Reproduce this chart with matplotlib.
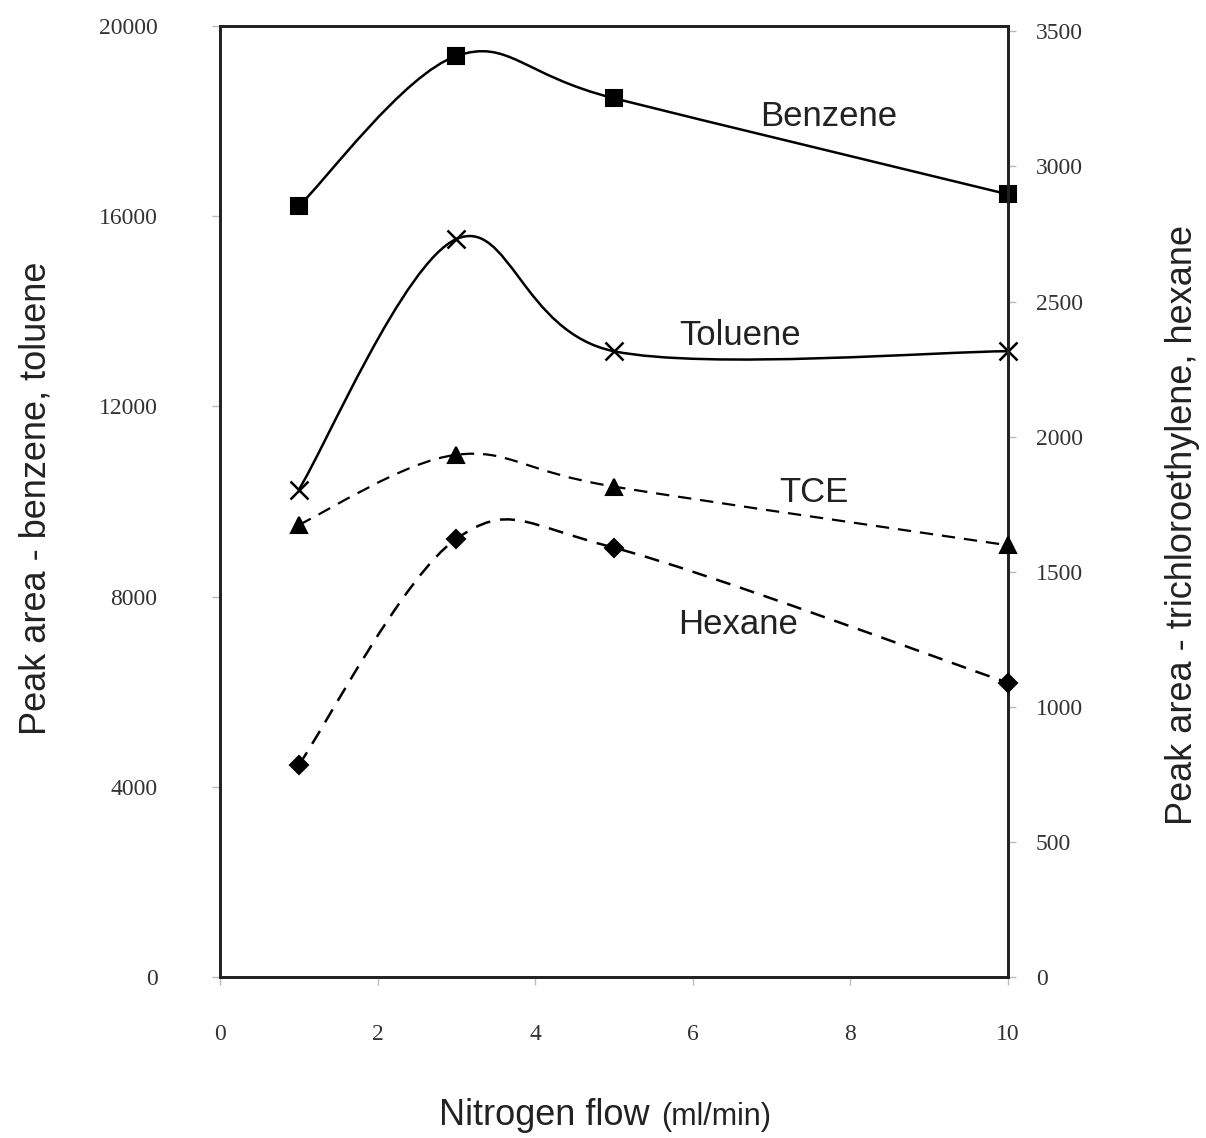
import matplotlib
matplotlib.use('Agg')
import matplotlib.pyplot as plt
from matplotlib.path import Path
from matplotlib.patches import PathPatch

# Nitrogen flow (ml/min)
flow = [1, 3, 5, 10]

# left axis series
benzene = [16210, 19370, 18480, 16460]
toluene = [10250, 15520, 13160, 13160]

# right axis series
tce = [1674, 1933, 1815, 1598]
hexane = [785, 1622, 1589, 1089]

labels = ['Benzene', 'Toluene', 'TCE', 'Hexane']
label_pos = [(7.73, 17900), (6.6, 13300), (7.54, 9980), (6.57, 7220)]

SERIF = 'Liberation Serif'
SANS = 'Liberation Sans'


def smooth_path(xs, ys):
    """Excel-like smoothed line as a cubic Bezier path through the points."""
    pts = list(zip(xs, ys))
    ext = [pts[0]] + pts + [pts[-1]]
    verts = [pts[0]]
    codes = [Path.MOVETO]
    for i in range(1, len(ext) - 2):
        p0, p1, p2, p3 = ext[i - 1], ext[i], ext[i + 1], ext[i + 2]
        c1 = (p1[0] + (p2[0] - p0[0]) / 6, p1[1] + (p2[1] - p0[1]) / 6)
        c2 = (p2[0] - (p3[0] - p1[0]) / 6, p2[1] - (p3[1] - p1[1]) / 6)
        verts += [c1, c2, p2]
        codes += [Path.CURVE4] * 3
    return Path(verts, codes)


def draw_series(ax, xs, ys, marker, ms, ls, lw, mew=1.5):
    patch = PathPatch(smooth_path(xs, ys), facecolor='none', edgecolor='black',
                      linewidth=lw, linestyle=ls, zorder=2)
    ax.add_patch(patch)
    ax.plot(xs, ys, linestyle='none', marker=marker, markersize=ms,
            color='black', markeredgewidth=mew, zorder=3, clip_on=False)


fig = plt.figure(figsize=(12.06, 11.38), dpi=100)
ax = fig.add_axes([220 / 1206, 1 - 977 / 1138, 788 / 1206, 951 / 1138])
ax2 = ax.twinx()

ax.set_xlim(0, 10)
ax.set_ylim(0, 20000)
ax2.set_ylim(0, 3520)

draw_series(ax, flow, benzene, 's', 12, '-', 1.8)
draw_series(ax, flow, toluene, 'x', 13, '-', 1.8, mew=1.8)
draw_series(ax2, flow, tce, '^', 12, (0, (6, 4)), 1.6)
draw_series(ax2, flow, hexane, 'D', 9, (0, (6, 4)), 1.8)

for txt, (x, y) in zip(labels, label_pos):
    ax.text(x, y, txt, fontsize=25, family=SANS, color='#222222',
            ha='center', va='baseline')

ax.set_xticks([0, 2, 4, 6, 8, 10])
ax.set_yticks([0, 4000, 8000, 12000, 16000, 20000])
ax2.set_yticks([0, 500, 1000, 1500, 2000, 2500, 3000, 3500])

for a in (ax, ax2):
    for sp in a.spines.values():
        sp.set_linewidth(2)
        sp.set_color('#222222')
    for lab in a.get_xticklabels() + a.get_yticklabels():
        lab.set_fontfamily(SERIF)
        lab.set_fontsize(17)
        lab.set_color('#333333')

ax.tick_params(axis='x', direction='out', length=6, width=1, color='#bbbbbb',
               pad=28)
ax.tick_params(axis='y', direction='out', length=6, width=1, color='#bbbbbb',
               pad=39)
ax2.tick_params(axis='y', direction='out', length=6, width=1, color='#bbbbbb',
                pad=14)

fig.text(650 / 1206, 1 - 1125 / 1138, 'Nitrogen flow', fontsize=26,
         family=SANS, color='#222222', ha='right', va='baseline')
fig.text(661 / 1206, 1 - 1125 / 1138, '(ml/min)', fontsize=22,
         family=SANS, color='#222222', ha='left', va='baseline')
fig.text(36 / 1206, 1 - 498 / 1138, 'Peak area - benzene, toluene',
         fontsize=26, family=SANS, color='#222222', rotation=90,
         ha='center', va='center')
fig.text(1183 / 1206, 1 - 525 / 1138, 'Peak area - trichloroethylene, hexane',
         fontsize=26, family=SANS, color='#222222', rotation=90,
         ha='center', va='center')

fig.savefig('out.png', dpi=100)
